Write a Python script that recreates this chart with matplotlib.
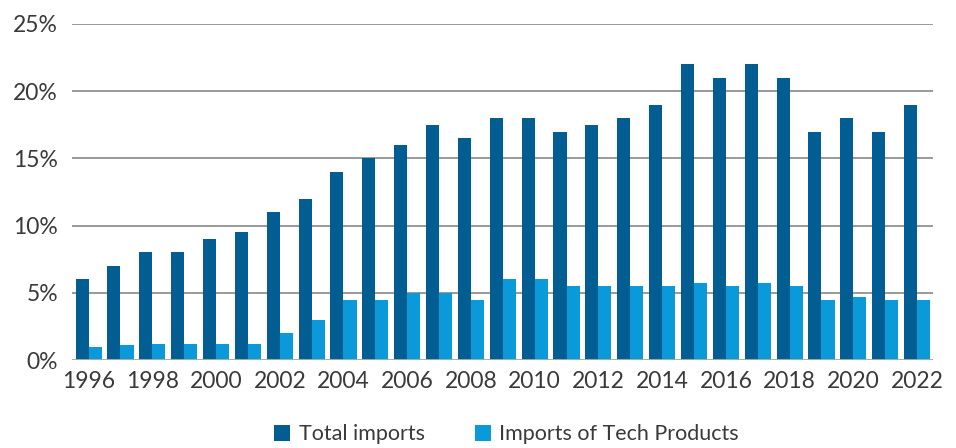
import numpy as np
import matplotlib.pyplot as plt
from matplotlib.ticker import FuncFormatter

years = list(range(1996, 2023))
total_imports = [6, 7, 8, 8, 9, 9.5, 11, 12, 14, 15, 16, 17.5, 16.5, 18, 18, 17, 17.5,
                 18, 19, 22, 21, 22, 21, 17, 18, 17, 19]
tech_imports = [1.0, 1.1, 1.2, 1.2, 1.2, 1.2, 2.0, 3.0, 4.5, 4.5, 5.0, 5.0, 4.5, 6.0, 6.0,
                5.5, 5.5, 5.5, 5.5, 5.7, 5.5, 5.7, 5.5, 4.5, 4.7, 4.5, 4.5]

dark = '#025d93'
light = '#0a9ad9'

plt.rcParams['font.family'] = ['Lato', 'DejaVu Sans']

fig = plt.figure(figsize=(9.56, 4.48), dpi=100)
ax = fig.add_axes([72 / 956, 1 - 360 / 448, (933 - 72) / 956, (360 - 24) / 448])

x = np.arange(len(years))
w = 0.41
ax.bar(x - w / 2, total_imports, w, color=dark, label='Total imports', zorder=3)
ax.bar(x + w / 2, tech_imports, w, color=light, label='Imports of Tech Products', zorder=3)

ax.set_ylim(0, 25)
ax.set_xlim(-0.52, 26.5)
ax.set_yticks([0, 5, 10, 15, 20, 25])
ax.yaxis.set_major_formatter(FuncFormatter(lambda v, p: f'{v:.0f}%'))
ax.set_xticks(x[::2])
ax.set_xticklabels([str(y) for y in years[::2]])
ax.grid(axis='y', color='#999999', linewidth=1.4, zorder=0)
for s in ['top', 'right', 'left', 'bottom']:
    ax.spines[s].set_visible(False)
ax.axhline(0, color='#b0b0b0', linewidth=2, zorder=4)
ax.tick_params(length=0, labelsize=16.5, colors='#3a3a3a')
ax.tick_params(axis='x', pad=8)
ax.tick_params(axis='y', pad=10)

fig.legend(loc='lower center', bbox_to_anchor=(0.53, -0.035), ncol=2, frameon=False,
           fontsize=15.5, handlelength=0.75, handleheight=0.75, handletextpad=0.4,
           columnspacing=2.3, labelcolor='#3a3a3a')

fig.savefig('out.png', dpi=100)
